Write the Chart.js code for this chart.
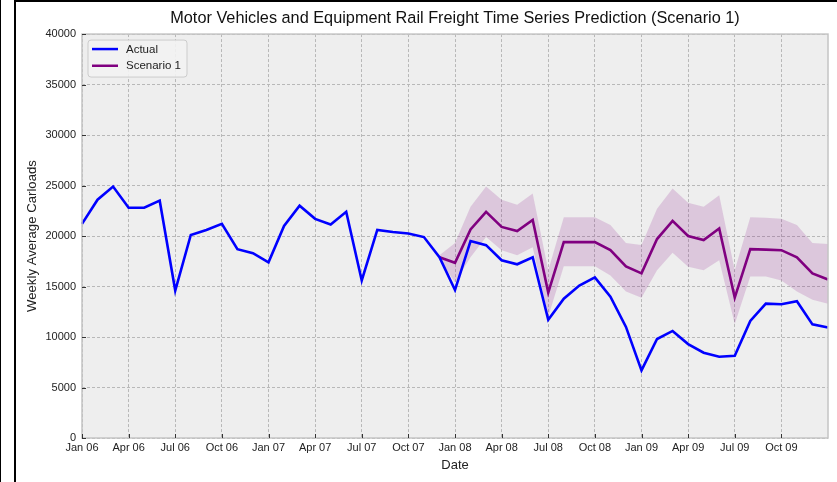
<!DOCTYPE html>
<html><head><meta charset="utf-8">
<script src="https://cdn.jsdelivr.net/npm/chart.js@4.4.1/dist/chart.umd.min.js"></script>
<style>
html,body{margin:0;padding:0;background:#fff;}
#wrap{position:relative;width:837px;height:482px;overflow:hidden;background:#fff;}
canvas{position:absolute;left:0;top:0;}
.bk{position:absolute;background:#000;}
</style></head><body>
<div id="wrap"><canvas id="c" width="837" height="482"></canvas>
<div class="bk" style="left:0;top:0;width:1px;height:482px"></div>
<div class="bk" style="left:14px;top:0;width:2px;height:482px"></div>
<div class="bk" style="left:16px;top:0;width:821px;height:2px"></div>
</div>
<script>
// ---- data ----
const months = [
  'Jan 06','Feb 06','Mar 06','Apr 06','May 06','Jun 06','Jul 06','Aug 06','Sep 06','Oct 06','Nov 06','Dec 06',
  'Jan 07','Feb 07','Mar 07','Apr 07','May 07','Jun 07','Jul 07','Aug 07','Sep 07','Oct 07','Nov 07','Dec 07',
  'Jan 08','Feb 08','Mar 08','Apr 08','May 08','Jun 08','Jul 08','Aug 08','Sep 08','Oct 08','Nov 08','Dec 08',
  'Jan 09','Feb 09','Mar 09','Apr 09','May 09','Jun 09','Jul 09','Aug 09','Sep 09','Oct 09','Nov 09','Dec 09',
  'Jan 10'
];
const xTickLabels = ['Jan 06','Apr 06','Jul 06','Oct 06','Jan 07','Apr 07','Jul 07','Oct 07',
  'Jan 08','Apr 08','Jul 08','Oct 08','Jan 09','Apr 09','Jul 09','Oct 09'];
const yTicks = [0,5000,10000,15000,20000,25000,30000,35000,40000];

const actual = [
  21200,23600,24900,22800,22800,23500,14600,20100,20600,21200,18700,18300,
  17400,21000,23000,21700,21150,22400,15600,20600,20400,20250,19900,17900,
  14650,19500,19100,17600,17200,17900,11700,13800,15100,15900,14000,11000,
  6700,9800,10600,9300,8450,8050,8150,11600,13300,13250,13550,11250,
  10950
];
const N = null;
const scenario1 = [
  N,N,N,N,N,N,N,N,N,N,N,N,
  N,N,N,N,N,N,N,N,N,N,N,17900,
  17350,20650,22400,20900,20500,21600,14400,19400,19400,19400,18600,17000,
  16300,19700,21500,20000,19600,20750,13900,18700,18650,18600,17900,16300,
  15700
];
const scenarioUpper = [
  N,N,N,N,N,N,N,N,N,N,N,N,
  N,N,N,N,N,N,N,N,N,N,N,18100,
  19300,22900,24900,23600,23100,24200,16600,21850,21850,21850,21100,19300,
  19100,22700,24700,23300,22900,24050,16600,21850,21800,21700,21100,19300,
  19200
];
const scenarioLower = [
  N,N,N,N,N,N,N,N,N,N,N,N,
  N,N,N,N,N,N,N,N,N,N,N,17700,
  15400,17900,19900,18600,18100,18900,12000,17000,17000,17000,16100,14500,
  13900,16600,18350,16950,16600,17600,11300,16000,16000,15600,14500,13700,
  13300
];

// ---- chart ----
const FONT = "'Liberation Sans', Arial, sans-serif";
const TXT = '#222222';

const bgPlugin = {
  id: 'bg',
  beforeDraw(chart) {
    const {ctx, chartArea: a} = chart;
    ctx.save();
    ctx.fillStyle = '#eeeeee';
    ctx.fillRect(a.left, a.top, a.right - a.left, a.bottom - a.top);
    ctx.restore();
  },
  afterDraw(chart) {
    const {ctx, chartArea: a, scales} = chart;
    ctx.save();
    // frame
    ctx.strokeStyle = '#c4c4c4';
    ctx.lineWidth = 1.5;
    ctx.strokeRect(a.left, a.top, a.right - a.left, a.bottom - a.top);
    // inward tick marks
    ctx.strokeStyle = '#333333';
    ctx.lineWidth = 1;
    scales.x.ticks.forEach(t => {
      const x = Math.round(scales.x.getPixelForValue(t.value)) + 0.5;
      ctx.beginPath(); ctx.moveTo(x, a.bottom); ctx.lineTo(x, a.bottom - 4); ctx.stroke();
    });
    scales.y.ticks.forEach(t => {
      const y = Math.round(scales.y.getPixelForValue(t.value)) + 0.5;
      ctx.beginPath(); ctx.moveTo(a.left, y); ctx.lineTo(a.left + 4, y); ctx.stroke();
    });
    // legend
    const items = chart.data.datasets.filter(d => d.inLegend);
    const bx = a.left + 6, by = a.top + 6, bw = 99, bh = 37, r = 3;
    ctx.beginPath();
    ctx.moveTo(bx + r, by);
    ctx.arcTo(bx + bw, by, bx + bw, by + bh, r);
    ctx.arcTo(bx + bw, by + bh, bx, by + bh, r);
    ctx.arcTo(bx, by + bh, bx, by, r);
    ctx.arcTo(bx, by, bx + bw, by, r);
    ctx.closePath();
    ctx.fillStyle = 'rgba(242,242,242,0.9)';
    ctx.fill();
    ctx.strokeStyle = '#cccccc';
    ctx.lineWidth = 1;
    ctx.stroke();
    ctx.font = '11.5px ' + FONT;
    ctx.textBaseline = 'middle';
    ctx.textAlign = 'left';
    items.forEach((d, i) => {
      const y = by + 9 + i * 16.7;
      ctx.strokeStyle = d.borderColor;
      ctx.lineWidth = 2.5;
      ctx.beginPath(); ctx.moveTo(bx + 4, y); ctx.lineTo(bx + 30, y); ctx.stroke();
      ctx.fillStyle = TXT;
      ctx.fillText(d.label, bx + 38, y + 0.5);
    });
    ctx.restore();
  }
};

new Chart(document.getElementById('c'), {
  type: 'line',
  data: {
    labels: months,
    datasets: [
      {label: 'Actual', data: actual, borderColor: '#0000ff', borderWidth: 2.6,
       pointRadius: 0, tension: 0, fill: false, inLegend: true},
      {label: 'Scenario 1', data: scenario1, borderColor: '#800080', borderWidth: 2.6,
       pointRadius: 0, tension: 0, fill: false, inLegend: true},
      {label: 'lower', data: scenarioLower, borderWidth: 0, borderColor: 'rgba(0,0,0,0)',
       pointRadius: 0, tension: 0, fill: false},
      {label: 'upper', data: scenarioUpper, borderWidth: 0, borderColor: 'rgba(0,0,0,0)',
       pointRadius: 0, tension: 0, fill: '-1', backgroundColor: 'rgba(128,0,128,0.16)'}
    ]
  },
  options: {
    responsive: false,
    animation: false,
    devicePixelRatio: 1,
    layout: {padding: {left: 0, right: 9, top: 0, bottom: 0}},
    plugins: {
      legend: {display: false},
      tooltip: {enabled: false},
      filler: {drawTime: 'beforeDatasetsDraw'},
      title: {
        display: true, fullSize: false,
        text: 'Motor Vehicles and Equipment Rail Freight Time Series Prediction (Scenario 1)',
        color: '#111111', font: {family: FONT, size: 16.3, weight: 'normal'},
        padding: {top: 9, bottom: 5.5}
      }
    },
    scales: {
      x: {
        type: 'category',
        offset: false,
        afterBuildTicks: s => { s.ticks = s.ticks.filter(t => xTickLabels.includes(months[t.value])); },
        afterFit: s => { s.height = 44; },
        grid: {color: '#b8b8b8', lineWidth: 1, drawTicks: false},
        border: {display: false, dash: [3, 2]},
        ticks: {autoSkip: false, maxRotation: 0, padding: 3.5, color: TXT,
                font: {family: FONT, size: 11}},
        title: {display: true, text: 'Date', color: TXT, font: {family: FONT, size: 13},
                padding: {top: 0, bottom: 9}}
      },
      y: {
        min: 0, max: 40000,
        afterBuildTicks: s => { s.ticks = yTicks.map(v => ({value: v})); },
        afterFit: s => { s.width = 82; },
        grid: {color: '#b8b8b8', lineWidth: 1, drawTicks: false},
        border: {display: false, dash: [3, 2]},
        ticks: {padding: 6, color: TXT, font: {family: FONT, size: 11},
                callback: v => String(v)},
        title: {display: true, text: 'Weekly Average Carloads', color: TXT,
                font: {family: FONT, size: 13.2}, padding: {top: 24, bottom: 0}}
      }
    }
  },
  plugins: [bgPlugin]
});
</script>
</body></html>
